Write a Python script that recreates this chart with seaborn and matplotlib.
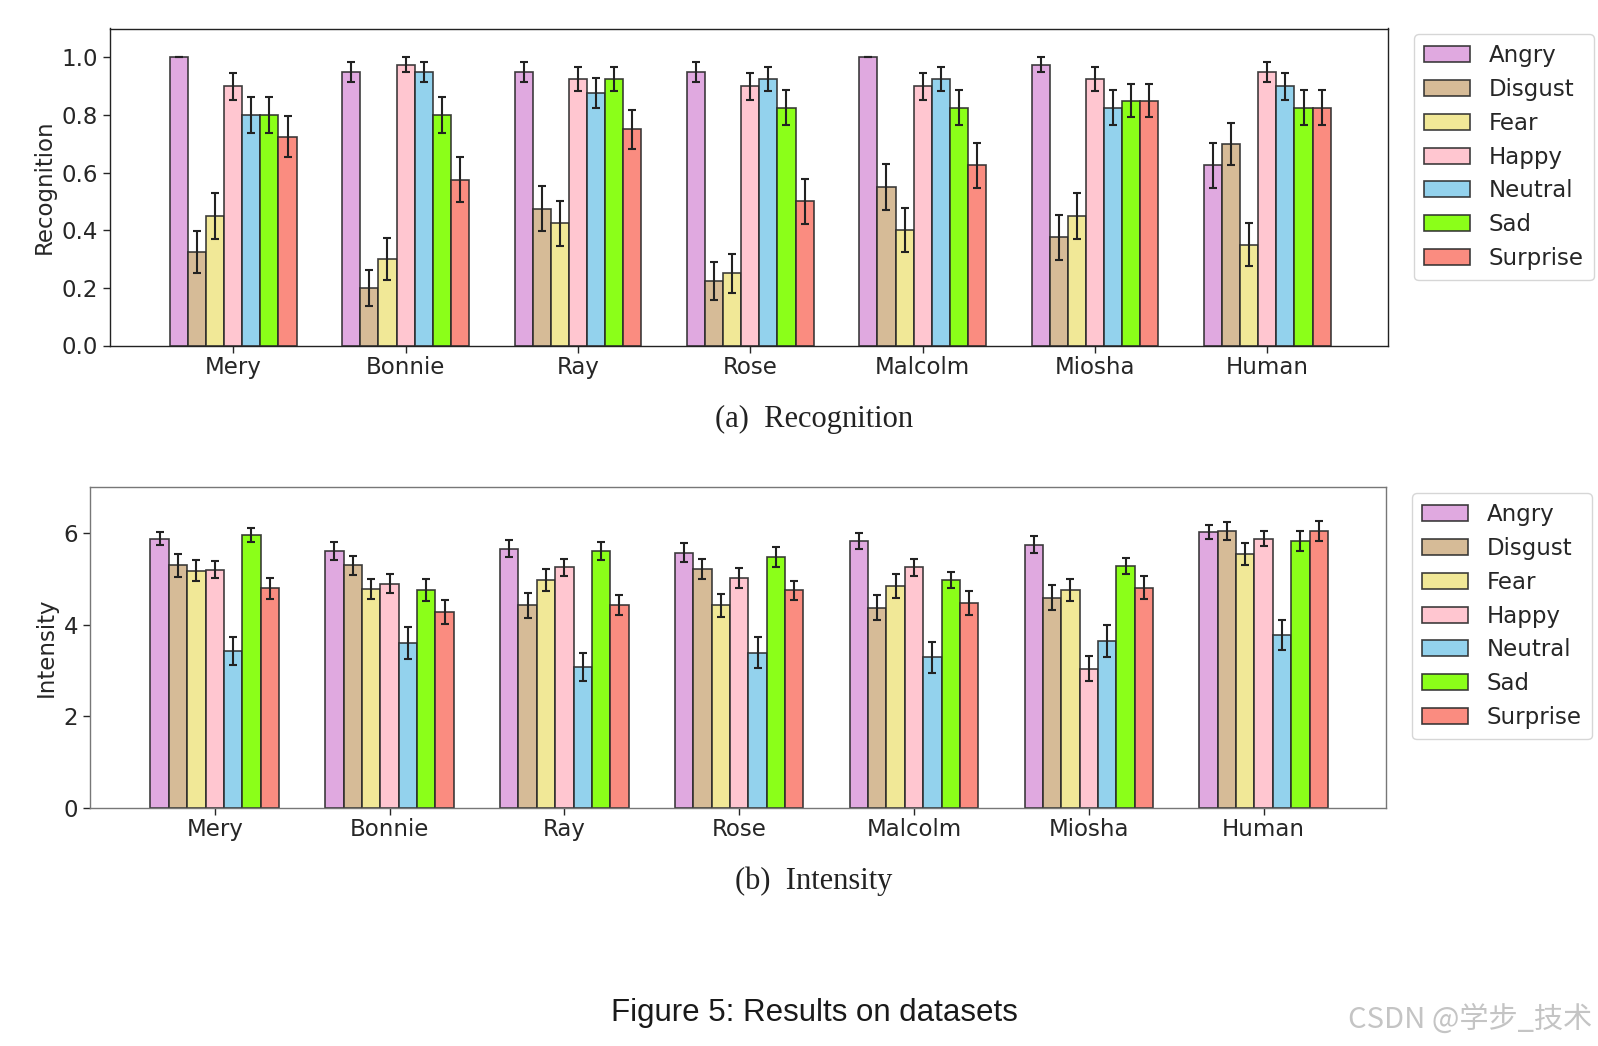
import numpy as np
import pandas as pd
import matplotlib
matplotlib.use("Agg")
import matplotlib.pyplot as plt
import seaborn as sns

subjects = ["Mery", "Bonnie", "Ray", "Rose", "Malcolm", "Miosha", "Human"]
emotions = ["Angry", "Disgust", "Fear", "Happy", "Neutral", "Sad", "Surprise"]
colors = ["plum", "tan", "khaki", "pink", "skyblue", "chartreuse", "salmon"]

# (a) Recognition
angry_rec = [1.0, 0.95, 0.95, 0.95, 1.0, 0.975, 0.625]
disgust_rec = [0.325, 0.2, 0.475, 0.225, 0.55, 0.375, 0.7]
fear_rec = [0.45, 0.3, 0.425, 0.25, 0.4, 0.45, 0.35]
happy_rec = [0.9, 0.975, 0.925, 0.9, 0.9, 0.925, 0.95]
neutral_rec = [0.8, 0.95, 0.875, 0.925, 0.925, 0.825, 0.9]
sad_rec = [0.8, 0.8, 0.925, 0.825, 0.825, 0.85, 0.825]
surprise_rec = [0.725, 0.575, 0.75, 0.5, 0.625, 0.85, 0.825]

angry_rec_err = [0.0, 0.035, 0.035, 0.035, 0.0, 0.025, 0.077]
disgust_rec_err = [0.074, 0.063, 0.079, 0.066, 0.079, 0.077, 0.072]
fear_rec_err = [0.079, 0.072, 0.078, 0.068, 0.077, 0.079, 0.075]
happy_rec_err = [0.047, 0.025, 0.042, 0.047, 0.047, 0.042, 0.035]
neutral_rec_err = [0.063, 0.035, 0.052, 0.042, 0.042, 0.060, 0.047]
sad_rec_err = [0.063, 0.063, 0.042, 0.060, 0.060, 0.056, 0.060]
surprise_rec_err = [0.071, 0.078, 0.068, 0.079, 0.077, 0.056, 0.060]

# (b) Intensity
angry_int = [5.87, 5.60, 5.65, 5.57, 5.82, 5.74, 6.02]
disgust_int = [5.29, 5.29, 4.42, 5.22, 4.37, 4.59, 6.04]
fear_int = [5.17, 4.77, 4.97, 4.42, 4.84, 4.75, 5.54]
happy_int = [5.20, 4.89, 5.25, 5.02, 5.25, 3.04, 5.87]
neutral_int = [3.42, 3.59, 3.07, 3.39, 3.29, 3.64, 3.77]
sad_int = [5.95, 4.75, 5.60, 5.47, 4.97, 5.27, 5.82]
surprise_int = [4.79, 4.27, 4.42, 4.75, 4.47, 4.80, 6.04]

angry_int_err = [0.145, 0.19, 0.185, 0.20, 0.18, 0.19, 0.16]
disgust_int_err = [0.25, 0.20, 0.275, 0.22, 0.275, 0.27, 0.20]
fear_int_err = [0.23, 0.22, 0.24, 0.25, 0.27, 0.24, 0.24]
happy_int_err = [0.19, 0.21, 0.18, 0.22, 0.18, 0.27, 0.16]
neutral_int_err = [0.30, 0.35, 0.30, 0.34, 0.34, 0.34, 0.33]
sad_int_err = [0.15, 0.24, 0.20, 0.22, 0.18, 0.175, 0.21]
surprise_int_err = [0.23, 0.265, 0.22, 0.21, 0.27, 0.25, 0.21]

rec_vals = [angry_rec, disgust_rec, fear_rec, happy_rec, neutral_rec, sad_rec, surprise_rec]
rec_errs = [angry_rec_err, disgust_rec_err, fear_rec_err, happy_rec_err,
            neutral_rec_err, sad_rec_err, surprise_rec_err]
int_vals = [angry_int, disgust_int, fear_int, happy_int, neutral_int, sad_int, surprise_int]
int_errs = [angry_int_err, disgust_int_err, fear_int_err, happy_int_err,
            neutral_int_err, sad_int_err, surprise_int_err]


def to_long(vals, errs):
    rows = []
    for emo, v, e in zip(emotions, vals, errs):
        for s, vv, ee in zip(subjects, v, e):
            rows.append({"Subject": s, "Emotion": emo, "value": vv, "err": ee})
    return pd.DataFrame(rows)


sns.set_style("ticks")
plt.rcParams["font.family"] = ["DejaVu Sans"]
plt.rcParams["text.color"] = "#262626"
plt.rcParams["axes.labelcolor"] = "#262626"
plt.rcParams["xtick.color"] = "#262626"
plt.rcParams["ytick.color"] = "#262626"

FS = 16.5
fig = plt.figure(figsize=(15.98, 10.46), dpi=100)
ax1 = fig.add_axes([110 / 1598, 1 - 345.5 / 1046, 1278 / 1598, 317 / 1046])
ax2 = fig.add_axes([89.7 / 1598, 1 - 808 / 1046, 1296.3 / 1598, 321 / 1046])


def draw(ax, df, ylabel, ylim, yticks, ytl, spine_color, leg_anchor):
    sns.barplot(data=df, x="Subject", y="value", hue="Emotion", order=subjects,
                hue_order=emotions, palette=colors, saturation=1, width=0.735,
                errorbar=None, edgecolor="#2a2a2a", linewidth=1.2, alpha=0.9, ax=ax)
    for cont, emo in zip(ax.containers, emotions):
        sub = df[df["Emotion"] == emo].set_index("Subject").loc[subjects]
        xs = [b.get_x() + b.get_width() / 2 for b in cont]
        ax.errorbar(xs, sub["value"].values, yerr=sub["err"].values, fmt="none",
                    ecolor="#222222", elinewidth=1.5, capsize=2.6, capthick=1.5, zorder=5)
    ax.set_xlim(-0.715, 6.70)
    ax.set_ylim(*ylim)
    ax.set_yticks(yticks)
    ax.set_yticklabels(ytl)
    ax.set_xlabel("")
    ax.set_ylabel(ylabel, fontsize=FS)
    ax.tick_params(axis="both", labelsize=FS, length=5, width=1.0)
    ax.tick_params(axis="x", pad=2.5)
    for sp in ax.spines.values():
        sp.set_visible(True)
        sp.set_color(spine_color)
        sp.set_linewidth(1.0)
    leg = ax.get_legend()
    if leg is not None:
        leg.remove()
    handles, labels = ax.get_legend_handles_labels()
    ax.legend(handles[:7], labels[:7], loc="upper left", bbox_to_anchor=leg_anchor,
              bbox_transform=fig.transFigure, fontsize=FS, frameon=True,
              labelspacing=0.47, handlelength=2.0, borderpad=0.45,
              handletextpad=0.8, borderaxespad=0.0)


draw(ax1, to_long(rec_vals, rec_errs), "Recognition", (0, 1.1),
     [0, 0.2, 0.4, 0.6, 0.8, 1.0], ["0.0", "0.2", "0.4", "0.6", "0.8", "1.0"],
     "#222222", (1414 / 1598, 1 - 34 / 1046))
draw(ax2, to_long(int_vals, int_errs), "Intensity", (0, 7.0),
     [0, 2, 4, 6], ["0", "2", "4", "6"], "#777777", (1412 / 1598, 1 - 493 / 1046))

fig.text(814 / 1598, 1 - 419 / 1046, "(a)  Recognition", ha="center", va="center",
         family=["Liberation Serif"], fontsize=22, color="#222222")
fig.text(814 / 1598, 1 - 881 / 1046, "(b)  Intensity", ha="center", va="center",
         family=["Liberation Serif"], fontsize=22, color="#222222")
fig.text(814 / 1598, 1 - 1013 / 1046, "Figure 5: Results on datasets", ha="center",
         va="center", family=["Liberation Sans"], fontsize=22.5, color="#1a1a1a")
fig.text(1592 / 1598, 1 - 1020 / 1046, "CSDN @学步_技术", ha="right", va="center",
         family=["Noto Sans CJK SC", "DejaVu Sans"], fontsize=21, color="#c4c4c4")

fig.savefig("out.png", dpi=100)
